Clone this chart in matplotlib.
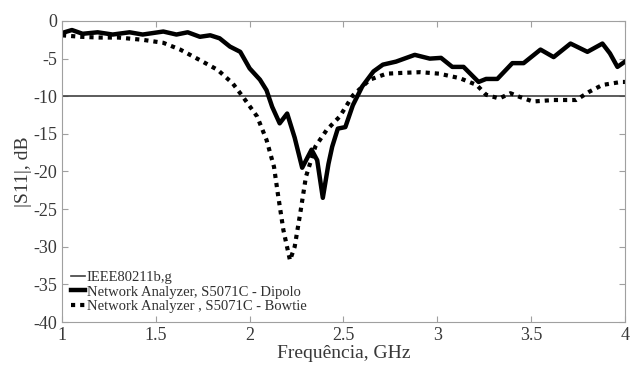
import matplotlib
matplotlib.use('Agg')
import matplotlib.pyplot as plt

plt.rcParams['font.family'] = ['Liberation Serif', 'DejaVu Serif']
plt.rcParams['axes.unicode_minus'] = False

# |S11| dipolo (medido)
freq_dip = [1.0, 1.053, 1.11, 1.19, 1.27, 1.36, 1.43, 1.54, 1.61, 1.67, 1.735, 1.79,
            1.84, 1.895, 1.95, 2.0, 2.055, 2.09, 2.12, 2.16, 2.2, 2.24, 2.28, 2.33,
            2.36, 2.39, 2.42, 2.44, 2.47, 2.51, 2.55, 2.6, 2.66, 2.71, 2.78, 2.88,
            2.96, 3.02, 3.08, 3.14, 3.22, 3.26, 3.32, 3.40, 3.46, 3.55, 3.62, 3.71,
            3.80, 3.88, 3.92, 3.96, 4.0]
s11_dip = [-1.6, -1.2, -1.7, -1.5, -1.8, -1.5, -1.8, -1.4, -1.8, -1.5, -2.1, -1.9,
           -2.3, -3.4, -4.1, -6.3, -7.8, -9.2, -11.4, -13.6, -12.3, -15.5, -19.5, -17.1,
           -18.5, -23.5, -19.0, -16.7, -14.3, -14.1, -11.2, -8.7, -6.7, -5.8, -5.4, -4.5,
           -5.0, -4.9, -6.1, -6.1, -8.1, -7.7, -7.7, -5.6, -5.6, -3.8, -4.8, -3.0,
           -4.1, -3.0, -4.3, -6.1, -5.4]

# |S11| bowtie (medido)
freq_bow = [1.0, 1.1, 1.2, 1.3, 1.43, 1.54, 1.63, 1.735, 1.83, 1.91, 1.965, 2.04,
            2.09, 2.13, 2.15, 2.18, 2.215, 2.24, 2.27, 2.30, 2.35, 2.41, 2.48, 2.55,
            2.64, 2.73, 2.81, 2.91, 3.01, 3.12, 3.21, 3.26, 3.33, 3.39, 3.44, 3.51,
            3.62, 3.74, 3.81, 3.88, 3.98, 4.0]
s11_bow = [-1.9, -2.1, -2.2, -2.2, -2.5, -2.9, -3.8, -5.2, -6.5, -8.3, -10.1, -12.7,
           -15.8, -19.4, -22.9, -27.8, -31.8, -30.0, -25.5, -20.7, -16.7, -14.5, -12.7, -9.9,
           -7.8, -7.0, -6.9, -6.8, -7.0, -7.6, -8.5, -9.8, -10.3, -9.6, -10.1, -10.7,
           -10.5, -10.5, -9.4, -8.5, -8.1, -8.1]

freq_ref = [1.0, 4.0]
s11_ref = [-10, -10]

fig = plt.figure(figsize=(6.39, 3.67), dpi=100)
ax = fig.add_axes([0.097, 0.1226, 0.881, 0.8202])

ax.plot(freq_ref, s11_ref, color='#404040', lw=1.2, label='IEEE80211b,g')
ax.plot(freq_dip, s11_dip, color='black', lw=3.2, label='Network Analyzer, S5071C - Dipolo')
ax.plot(freq_bow, s11_bow, color='black', lw=3, linestyle=(0, (1, 1.2)),
        label='Network Analyzer , S5071C - Bowtie')

ax.set_xlim(1, 4)
ax.set_ylim(-40, 0)
ax.set_xticks([1, 1.5, 2, 2.5, 3, 3.5, 4])
ax.set_xticklabels(['1', '1.5', '2', '2.5', '3', '3.5', '4'])
ax.set_yticks(range(-40, 1, 5))
ax.tick_params(direction='in', top=True, right=True, labelsize=13, colors='#a0a0a0',
               labelcolor='#383838', length=4)
for s in ax.spines.values():
    s.set_color('#a0a0a0')

ax.set_xlabel('Frequência, GHz', fontsize=14, color='#383838', labelpad=1)
ax.set_ylabel('|S11|, dB', fontsize=14, color='#383838', labelpad=1)

leg = ax.legend(loc='lower left', frameon=False, fontsize=10.5, handlelength=1.0,
                handletextpad=0.1, labelspacing=0.1, borderaxespad=0.2)
for t in leg.get_texts():
    t.set_color('#303030')

fig.savefig('out.png', dpi=100)
